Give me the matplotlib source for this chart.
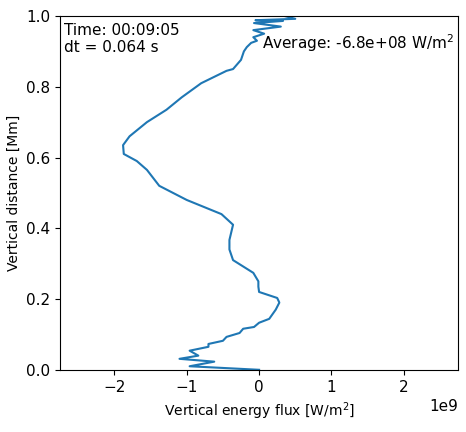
import matplotlib
matplotlib.use("Agg")
import matplotlib.pyplot as plt

flux = [0.0, -0.96, -0.62, -1.10, -0.84, -0.96, -0.70, -0.70, -0.50, -0.45, -0.27, -0.22, -0.07, 0.0,
        0.14, 0.23, 0.28, 0.25, 0.0, -0.01, -0.01, -0.08, -0.36, -0.41, -0.41, -0.36, -0.52, -1.0,
        -1.38, -1.55, -1.69, -1.87, -1.88, -1.79, -1.55, -1.28, -1.07, -0.80, -0.45, -0.36, -0.25,
        -0.21, -0.17, -0.11, -0.03, -0.08, 0.07, -0.08, 0.30, -0.07, 0.33, -0.05, 0.50, 0.35]
height = [0.0, 0.01, 0.023, 0.031, 0.04, 0.054, 0.065, 0.073, 0.082, 0.093, 0.104, 0.116, 0.121, 0.133,
          0.144, 0.17, 0.19, 0.203, 0.22, 0.235, 0.25, 0.274, 0.31, 0.34, 0.367, 0.41, 0.44, 0.48,
          0.52, 0.565, 0.59, 0.61, 0.635, 0.66, 0.70, 0.735, 0.77, 0.81, 0.845, 0.85, 0.876,
          0.90, 0.912, 0.924, 0.93, 0.94, 0.95, 0.96, 0.97, 0.98, 0.986, 0.988, 0.992, 1.0]

fig, ax = plt.subplots(figsize=(4.66, 4.32), dpi=100)
fig.subplots_adjust(left=0.129, right=0.983, bottom=0.144, top=0.963)
ax.plot([f * 1e9 for f in flux], height, color="#1f77b4")
ax.set_xlim(-2.75e9, 2.75e9)
ax.set_ylim(0, 1)
ax.set_xlabel("Vertical energy flux [W/m$^2$]")
ax.set_ylabel("Vertical distance [Mm]")
ax.text(0.01, 0.98, "Time: 00:09:05\ndt = 0.064 s", transform=ax.transAxes, va="top", ha="left", fontsize=11)
ax.text(0.99, 0.955, "Average: -6.8e+08 W/m$^2$", transform=ax.transAxes, va="top", ha="right", fontsize=11)
ax.tick_params(labelsize=11)
ax.xaxis.get_offset_text().set_fontsize(11)
fig.savefig("out.png")
